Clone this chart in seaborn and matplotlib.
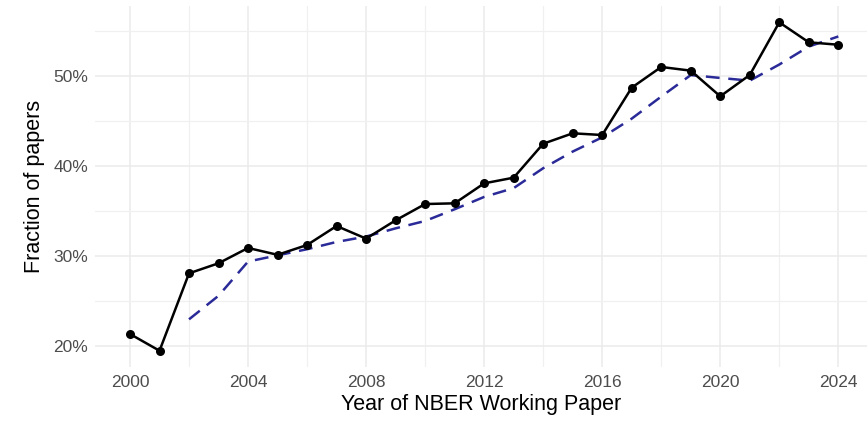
import matplotlib
matplotlib.use("Agg")
import matplotlib.pyplot as plt
import seaborn as sns
import pandas as pd
from matplotlib.ticker import FuncFormatter, MultipleLocator

years = list(range(2000, 2025))
fraction = [21.30, 19.44, 28.04, 29.16, 30.86, 30.10, 31.19, 33.30, 31.90, 33.93,
            35.74, 35.82, 38.04, 38.67, 42.44, 43.60, 43.41, 48.67, 50.97, 50.56,
            47.71, 50.08, 55.93, 53.71, 53.44]
avg_years = list(range(2002, 2025))
avg_fraction = [22.93, 25.55, 29.35, 30.04, 30.72, 31.53, 32.13, 33.04, 33.86, 35.16,
                36.53, 37.51, 39.72, 41.57, 43.15, 45.23, 47.68, 50.07, 49.75, 49.45,
                51.24, 53.24, 54.36]
x_ticks = [2000, 2004, 2008, 2012, 2016, 2020, 2024]
y_ticks = [20, 30, 40, 50]

df = pd.DataFrame({"year": years, "frac": fraction})
dfa = pd.DataFrame({"year": avg_years, "frac": avg_fraction})

sns.set_theme(style="whitegrid")
plt.rcParams["font.family"] = ["Liberation Sans", "DejaVu Sans"]

fig = plt.figure(figsize=(8.67, 4.25), dpi=100)
ax = fig.add_axes([95 / 867, 1 - 366.5 / 425, 1 - 95 / 867, (366.5 - 6) / 425])

sns.lineplot(data=dfa, x="year", y="frac", ax=ax, color="#2a2a98", lw=1.8,
             linestyle=(0, (5.5, 3.5)), zorder=3)
sns.lineplot(data=df, x="year", y="frac", ax=ax, color="black", lw=1.8,
             marker="o", markersize=6.5, markeredgewidth=0, zorder=4)

px_per_year = (838.3 - 130) / 24
ax.set_xlim(2000 - (130 - 95) / px_per_year, 2024 + (867 - 838.3) / px_per_year)
ax.set_ylim(20 - (366.5 - 345.7) / 9.0, 20 + (345.7 - 6) / 9.0)

ax.set_xticks(x_ticks)
ax.set_yticks(y_ticks)
ax.xaxis.set_minor_locator(MultipleLocator(2))
ax.yaxis.set_minor_locator(MultipleLocator(5))
ax.yaxis.set_major_formatter(FuncFormatter(lambda v, p: f"{v:.0f}%"))

ax.grid(which="major", color="#ebebeb", lw=1.1)
ax.grid(which="minor", color="#f0f0f0", lw=0.9)
for s in ax.spines.values():
    s.set_visible(False)
ax.tick_params(which="both", length=0, labelsize=12.5, labelcolor="#4d4d4d")
ax.tick_params(axis="x", pad=6)
ax.tick_params(axis="y", pad=5)

ax.set_xlabel("Year of NBER Working Paper", fontsize=15.5, color="black", labelpad=3)
ax.set_ylabel("Fraction of papers", fontsize=15.5, color="black", labelpad=6)

fig.savefig("out.png", dpi=100, facecolor="white")
